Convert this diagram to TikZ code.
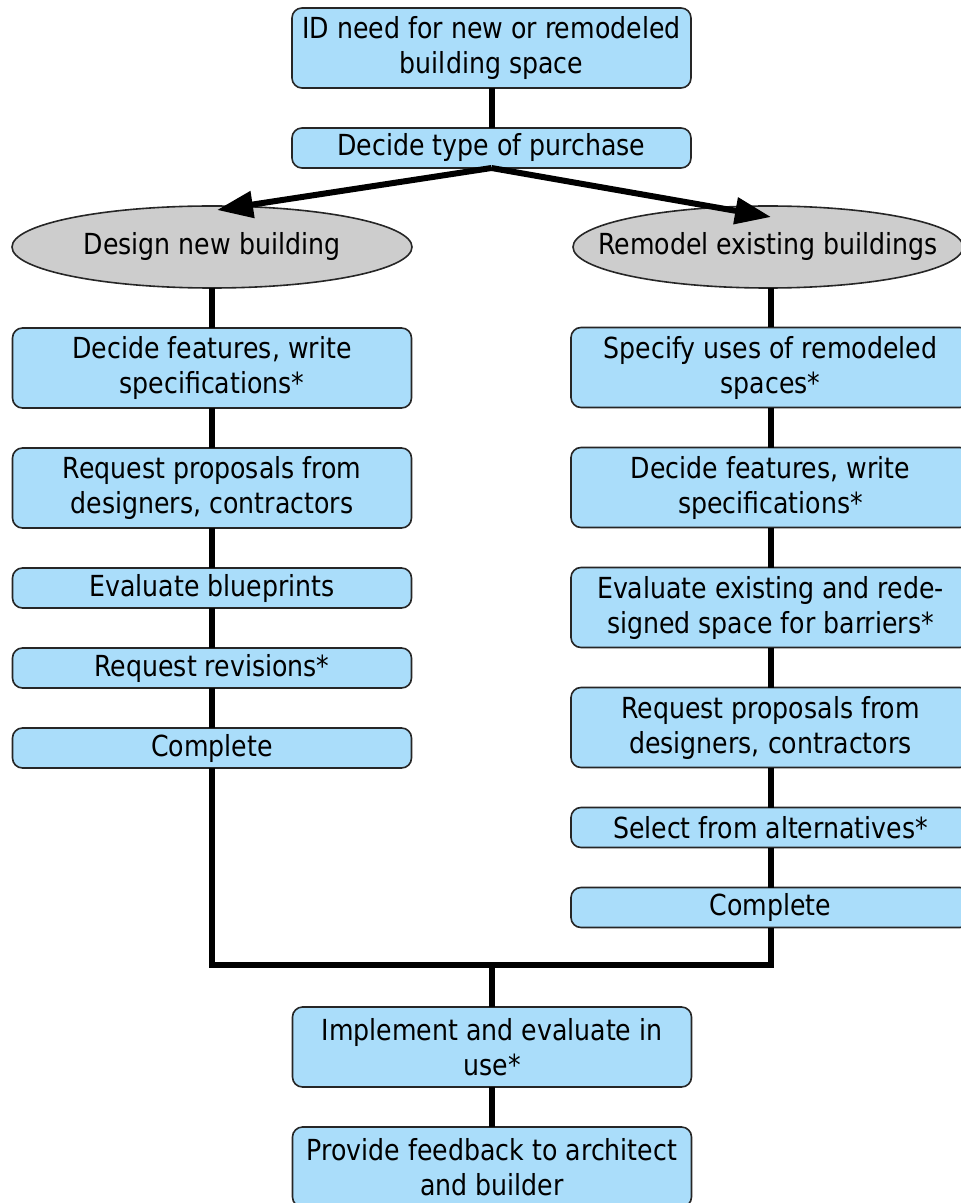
\documentclass[tikz,border=0pt]{standalone}
\usepackage{fontspec}
\setmainfont{DejaVu Sans}[FakeStretch=0.87]
\usetikzlibrary{positioning,calc,arrows.meta,shapes.geometric}
\definecolor{boxblue}{RGB}{170,221,250}
\definecolor{ovalgray}{RGB}{205,205,205}

\begin{document}
\begin{tikzpicture}[x=0.5pt,y=-0.5pt,
		box/.style={draw=black!85,line width=0.8pt,fill=boxblue,rounded corners=5pt,minimum width=199.5pt,inner sep=0pt,outer sep=0pt,align=center,font=\fontsize{14.5}{17.5}\selectfont},
		tall/.style={box,minimum height=40pt},
		flat/.style={box,minimum height=20pt},
		oval/.style={ellipse,draw=black!85,line width=0.8pt,fill=ovalgray,inner sep=0pt,outer sep=0pt,minimum height=41pt,font=\fontsize{14.5}{17.5}\selectfont},
		link/.style={line width=3pt},
		arrowlink/.style={link,-{Triangle[length=18pt,width=13pt]}}]
			\useasboundingbox (0,0) rectangle (961,1203);
			\node[tall] (id) at (491.5,48) {ID need for new or remodeled\\building space};
			\node[flat,below=20pt of id] (dtype) {Decide type of purchase};
			\node[oval,minimum width=200pt] (ellL) at (212,247) {\makebox[0pt]{Design new building}};
			\node[oval,minimum width=195pt] (ellR) at (768,247) {\makebox[0pt]{Remodel existing buildings}};
			\node[tall,below=20pt of ellL] (l1) {Decide features, write\\specifications*};
			\node[tall,below=20pt of l1] (l2) {Request proposals from\\designers, contractors};
			\node[flat,below=20pt of l2] (l3) {Evaluate blueprints};
			\node[flat,below=20pt of l3] (l4) {Request revisions*};
			\node[flat,below=20pt of l4] (l5) {Complete};
			\node[tall] (r1) at (770.5,367.5) {Specify uses of remodeled\\spaces*};
			\node[tall,below=20pt of r1] (r2) {Decide features, write\\specifications*};
			\node[tall,below=20pt of r2] (r3) {Evaluate existing and rede-\\signed space for barriers*};
			\node[tall,below=20pt of r3] (r4) {Request proposals from\\designers, contractors};
			\node[flat,below=20pt of r4] (r5) {Select from alternatives*};
			\node[flat,below=20pt of r5] (r6) {Complete};
			\coordinate (join) at (492,965);
			\node[tall,below=21pt of join] (impl) {Implement and evaluate in\\use*};
			\node[tall,below=20pt of impl] (prov) {Provide feedback to architect\\and builder};
			\draw[link] (id) -- (dtype);
			\draw[arrowlink] (dtype.south) -- ($(ellL.north)+(5,4)$);
			\draw[arrowlink] (dtype.south) -- ($(ellR.north)+(3,11)$);
			\draw[link] (ellL) -- (l1);
			\draw[link] (l1) -- (l2);
			\draw[link] (l2) -- (l3);
			\draw[link] (l3) -- (l4);
			\draw[link] (l4) -- (l5);
			\draw[link] (r1.north |- ellR.south) -- (r1.north);
			\draw[link] (r1) -- (r2);
			\draw[link] (r2) -- (r3);
			\draw[link] (r3) -- (r4);
			\draw[link] (r4) -- (r5);
			\draw[link] (r5) -- (r6);
			\draw[link] (l5.south) |- (join) -| (r6.south);
			\draw[link] (join) -- (impl);
			\draw[link] (impl) -- (prov);
\end{tikzpicture}
\end{document}
